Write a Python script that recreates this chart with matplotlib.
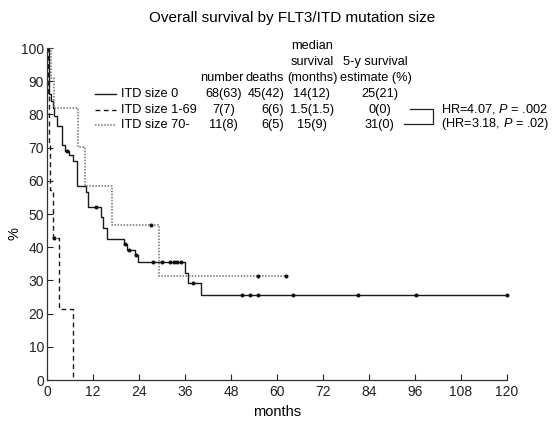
import matplotlib
matplotlib.use("Agg")
import matplotlib.pyplot as plt
import numpy as np

plt.rcParams['font.family'] = ['Liberation Sans', 'DejaVu Sans']
plt.rcParams['mathtext.fontset'] = 'custom'
plt.rcParams['mathtext.rm'] = 'Liberation Sans'
plt.rcParams['mathtext.it'] = 'Liberation Sans:italic'

# Kaplan-Meier step data (months, % surviving)
itd0_t = [0, 0.5, 1.0, 1.5, 1.8, 2.7, 3.8, 4.7, 5.8, 6.7, 7.9, 10.3, 10.8, 14.0, 14.7,
          15.6, 20.1, 20.8, 23.0, 23.8, 36.0, 36.9, 40.2]
itd0_s = [100, 86, 84, 82, 79.5, 76.5, 70.8, 69.1, 67.8, 66.1, 58.4, 56.7, 52.2, 49.0, 45.7,
          42.4, 41.0, 39.2, 37.6, 35.6, 32.1, 29.1, 25.6]
itd0_cens = [5.1, 12.9, 20.3, 21.3, 23.3, 27.7, 29.9, 32.1, 33.0, 33.8, 34.9, 38.2,
             50.8, 53.0, 55.1, 64.1, 81.2, 96.2, 120]
itd0_end = 120

itd169_t = [0, 0.3, 0.6, 0.9, 1.5, 3.0, 6.7]
itd169_s = [100, 85.7, 71.4, 57.1, 42.9, 21.4, 0]
itd169_cens = [1.8]
itd169_end = 6.7

itd70_t = [0, 1.0, 1.7, 8.2, 9.9, 16.9, 29.2]
itd70_s = [100, 90.9, 81.8, 70.1, 58.4, 46.75, 31.2]
itd70_cens = [27.1, 55.1, 62.3]
itd70_end = 62.3

group_names = ["ITD size 0", "ITD size 1-69", "ITD size 70-"]
header = ["number", "deaths", "(months)", "estimate (%)"]
col_number = ["68(63)", "7(7)", "11(8)"]
col_deaths = ["45(42)", "6(6)", "6(5)"]
col_median = ["14(12)", "1.5(1.5)", "15(9)"]
col_5y = ["25(21)", "0(0)", "31(0)"]
hr_texts = [r"HR=4.07, $\it{P}$ = .002", r"(HR=3.18, $\it{P}$ = .02)"]

W, H = 553, 422
fig = plt.figure(figsize=(W / 100, H / 100), dpi=100)
ax = fig.add_axes([47 / W, 1 - 380 / H, 460 / W, 332 / H])
renderer = fig.canvas.get_renderer()


def fx(p):
    return p / W


def fy(p):
    return 1 - p / H


def surv_at(ts, ss, t):
    i = np.searchsorted(ts, t, side='right') - 1
    return ss[i]


styles = [
    dict(color='#1a1a1a', linestyle='-', lw=1.0),
    dict(color='#1a1a1a', linestyle=(0, (3.5, 2.5)), lw=1.0),
    dict(color='#707070', linestyle=(0, (1, 1)), lw=1.1),
]
curves = [
    (itd0_t, itd0_s, itd0_cens, itd0_end),
    (itd169_t, itd169_s, itd169_cens, itd169_end),
    (itd70_t, itd70_s, itd70_cens, itd70_end),
]

for (t, s, cens, end), st in zip(curves, styles):
    ax.step(t + [end], s + [s[-1]], where='post', **st)
    cy = [surv_at(t, s, c) for c in cens]
    ax.plot(cens, cy, 'o', ms=1.9, color='#111111', clip_on=False)

ax.set_xlim(0, 120)
ax.set_ylim(0, 100)
ax.set_xticks(np.arange(0, 121, 12))
ax.set_yticks(np.arange(0, 101, 10))
ax.tick_params(direction='in', length=4, width=0.8, labelsize=10, colors='#222222')
ax.tick_params(axis='y', pad=2)
ax.spines['top'].set_visible(False)
ax.spines['right'].set_visible(False)
for sp in ['left', 'bottom']:
    ax.spines[sp].set_linewidth(0.9)
    ax.spines[sp].set_color('#333333')
ax.set_xlabel("months", fontsize=10.5)
ax.set_ylabel("%", fontsize=10.5)
ax.xaxis.set_label_coords(0.5, -0.075)
ax.yaxis.set_label_coords(-0.055, 0.44)

fig.text(fx(292), fy(18), "Overall survival by FLT3/ITD mutation size",
         ha='center', va='center', fontsize=11)

# table header, words laid out one after another
fs = 9.2
x = 200
spans = []
for word in header:
    txt = fig.text(fx(x), fy(78), word, ha='left', va='center', fontsize=fs)
    w = txt.get_window_extent(renderer).width
    spans.append((x, x + w))
    x += w + 2.5
centers = [(a + b) / 2 for a, b in spans]

fig.text(fx(centers[2]), fy(46), "median", ha='center', va='center', fontsize=fs)
fig.text(fx(centers[2]), fy(62), "survival", ha='center', va='center', fontsize=fs)
fig.text(fx(centers[3]), fy(62), "5-y survival", ha='center', va='center', fontsize=fs)

row_y = [94, 110, 125]
for i, yy in enumerate(row_y):
    ax.plot([fx(95), fx(116)], [fy(yy), fy(yy)], transform=fig.transFigure,
            clip_on=False, **styles[i])
    fig.text(fx(121), fy(yy), group_names[i], ha='left', va='center', fontsize=fs)
    fig.text(fx(centers[0] + 2), fy(yy), col_number[i], ha='center', va='center', fontsize=fs)
    fig.text(fx(spans[1][1]), fy(yy), col_deaths[i], ha='right', va='center', fontsize=fs)
    fig.text(fx(centers[2]), fy(yy), col_median[i], ha='center', va='center', fontsize=fs)
    fig.text(fx(centers[3] + 4), fy(yy), col_5y[i], ha='center', va='center', fontsize=fs)

# bracket and hazard ratios
ax.plot([fx(410), fx(433), fx(433), fx(404)],
        [fy(109), fy(109), fy(124), fy(124)],
        transform=fig.transFigure, clip_on=False, color='#222222', lw=0.9)
fig.text(fx(441), fy(109), hr_texts[0], ha='left', va='center', fontsize=fs)
fig.text(fx(441), fy(124), hr_texts[1], ha='left', va='center', fontsize=fs)

fig.savefig("out.png", dpi=100)
